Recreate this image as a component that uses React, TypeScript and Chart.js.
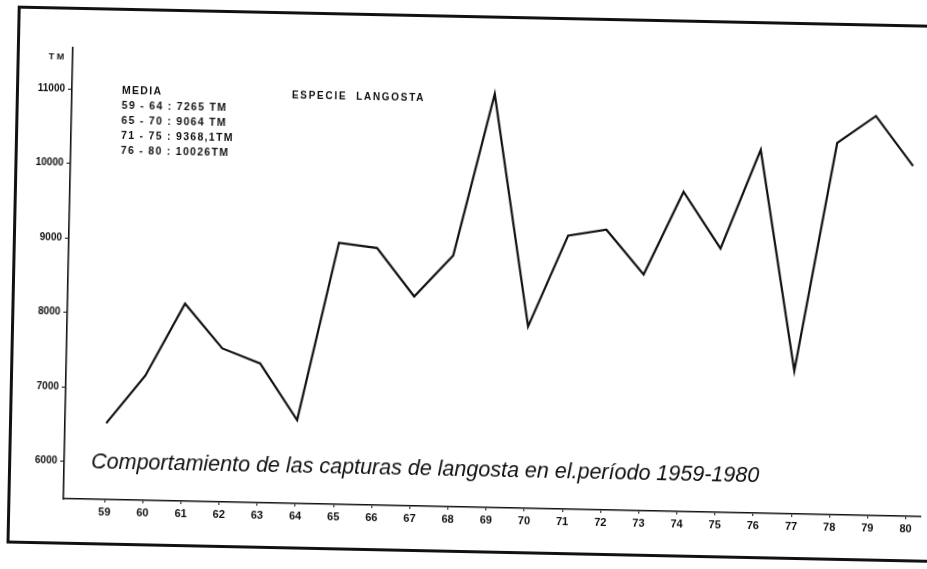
import React, { useEffect, useRef } from "react";
import { Chart, registerables } from "chart.js";

Chart.register(...registerables);

const years = ["59", "60", "61", "62", "63", "64", "65", "66", "67", "68", "69", "70", "71", "72", "73", "74", "75", "76", "77", "78", "79", "80"];
const catches = [6525, 7175, 8150, 7560, 7370, 6620, 9010, 8950, 8310, 8870, 11050, 7940, 9170, 9260, 8670, 9790, 9040, 10375, 7420, 10490, 10860, 10200];
const yTicks = [6000, 7000, 8000, 9000, 10000, 11000];
const mediaLines = ["MEDIA", "59 - 64 : 7265 TM", "65 - 70 : 9064 TM", "71 - 75 : 9368,1TM", "76 - 80 : 10026TM"];
const subtitle = "ESPECIE  LANGOSTA";
const title = "Comportamiento de las capturas de langosta en el.período 1959-1980";
const unitLabel = "T M";

const FONT = '"Liberation Sans", Arial, sans-serif';

export default function App() {
  const ref = useRef<HTMLCanvasElement | null>(null);

  useEffect(() => {
    if (!ref.current) return;
    const chart = new Chart(ref.current, {
      type: "line",
      data: {
        datasets: [
          {
            data: catches.map((v, i) => ({ x: i, y: v })),
            borderColor: "#111",
            borderWidth: 2.2,
            pointRadius: 0,
            tension: 0,
            fill: false,
          },
        ],
      },
      options: {
        responsive: false,
        animation: false,
        layout: { padding: { top: 56, right: 2, left: 0, bottom: 0 } },
        plugins: { legend: { display: false }, tooltip: { enabled: false } },
        scales: {
          x: {
            type: "linear",
            min: -1.08,
            max: 21.38,
            afterBuildTicks: (s: any) => {
              s.ticks = years.map((_, i) => ({ value: i }));
            },
            afterFit: (s: any) => {
              s.height = 62;
            },
            grid: { drawOnChartArea: false, drawTicks: true, tickLength: 3, color: "#111" },
            border: { display: true, color: "#111", width: 1.6 },
            ticks: {
              color: "#111",
              padding: 3,
              maxRotation: 0,
              autoSkip: false,
              font: { family: FONT, size: 11, weight: "bold" },
              callback: (v: any) => years[Math.round(Number(v))] ?? "",
            },
          },
          y: {
            type: "linear",
            min: 5500,
            max: 11550,
            afterBuildTicks: (s: any) => {
              s.ticks = yTicks.map((v) => ({ value: v }));
            },
            afterFit: (s: any) => {
              s.width = 68;
            },
            grid: { drawOnChartArea: false, drawTicks: true, tickLength: 4, color: "#111" },
            border: { display: true, color: "#111", width: 1.6 },
            ticks: {
              color: "#111",
              padding: 3,
              font: { family: FONT, size: 10, weight: "bold" },
              callback: (v: any) => String(v),
            },
          },
        },
      },
    } as any);
    return () => chart.destroy();
  }, []);

  const txt: React.CSSProperties = {
    position: "absolute",
    fontFamily: FONT,
    color: "#111",
    whiteSpace: "pre",
  };

  return (
    <div
      style={{
        position: "fixed",
        left: 0,
        top: 0,
        width: 927,
        height: 569,
        background: "#fff",
        transform: "rotate(1.2deg)",
        transformOrigin: "50% 50%",
        overflow: "visible",
      }}
    >
      <div
        style={{
          position: "absolute",
          left: 12,
          top: 15,
          width: 940,
          height: 532,
          borderTop: "3px solid #111",
          borderLeft: "3px solid #111",
          borderBottom: "3px solid #111",
        }}
      />
      <canvas ref={ref} width={927} height={569} style={{ position: "absolute", left: 0, top: 0, display: "block" }} />
      <div style={{ ...txt, left: 44, top: 60, fontSize: 9, fontWeight: "bold", lineHeight: "10px" }}>{unitLabel}</div>
      <div style={{ ...txt, left: 118, top: 90, fontSize: 10.5, fontWeight: "bold", lineHeight: "15px", letterSpacing: "1.3px" }}>
        {mediaLines.map((l, i) => (
          <div key={i}>{l}</div>
        ))}
      </div>
      <div style={{ ...txt, left: 288, top: 93, fontSize: 10, fontWeight: "bold", lineHeight: "12px", letterSpacing: "1.7px" }}>{subtitle}</div>
      <div style={{ ...txt, left: 95, top: 456, fontSize: 21.5, fontStyle: "italic", lineHeight: "26px" }}>{title}</div>
    </div>
  );
}
